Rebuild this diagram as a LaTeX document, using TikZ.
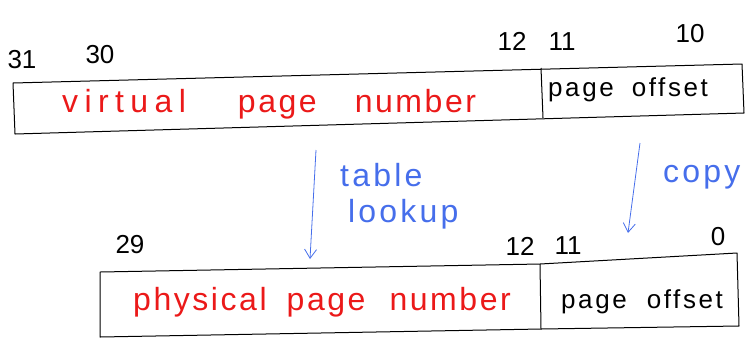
\documentclass[tikz,border=0pt]{standalone}
\usepackage{fontspec}
\setmainfont{Liberation Sans}
\usetikzlibrary{arrows.meta, positioning}
\usepackage{xcolor}
\definecolor{inkred}{RGB}{235,25,25}
\definecolor{inkblue}{RGB}{70,110,235}
\tikzset{fieldline/.style={draw=black, line width=1pt, line join=round},
bitnum/.style={font=\fontsize{26}{28}\selectfont, inner sep=0pt},
pagetext/.style={font=\fontsize{32}{36}\selectfont\addfontfeature{LetterSpace=8}, text=inkred, inner sep=0pt, anchor=base west},
offtext/.style={font=\fontsize{26}{30}\selectfont\addfontfeature{LetterSpace=10}, inner sep=0pt, anchor=base west},
lookarrow/.style={draw=inkblue, line width=0.8pt, -{Straight Barb[length=9pt, width=12pt]}},
notetext/.style={font=\fontsize{32}{36}\selectfont\addfontfeature{LetterSpace=10}, text=inkblue, inner sep=0pt, anchor=base west}}

\begin{document}
\begin{tikzpicture}[x=1pt, y=-1pt]
        \useasboundingbox (0,0) rectangle (751,360);
        % Virtual address box
        \coordinate (vtl) at (13,83);
        \coordinate (vtr) at (742,64);
        \coordinate (vbr) at (744,113);
        \coordinate (vbl) at (15,134);
        \coordinate (vdt) at (541,68);
        \coordinate (vdb) at (543,118);
        \draw[fieldline] (vtl) -- (vtr) -- (vbr) -- (vbl) -- cycle;
        \draw[fieldline] (vdt) -- (vdb);
        % Physical address box
        \coordinate (ptl) at (100,272);
        \coordinate (pdt) at (540,264);
        \coordinate (ptr) at (737,253);
        \coordinate (pbr) at (739,326);
        \coordinate (pdb) at (541,329);
        \coordinate (pbl) at (100,337);
        \draw[fieldline] (ptl) -- (pdt) -- (ptr) -- (pbr) -- (pdb) -- (pbl) -- cycle;
        \draw[fieldline] (pdt) -- (pdb);
        % Bit numbers
        \node[bitnum] (v31) at (22,60) {31};
        \node[bitnum] (v30) at (100,55) {30};
        \node[bitnum] (v12) at (512,41) {12};
        \node[bitnum] (v11) at (562,42) {11};
        \node[bitnum] (v0) at (690,34) {10};
        \node[bitnum] (p29) at (130,245) {29};
        \node[bitnum] (p12) at (520,246) {12};
        \node[bitnum] (p11) at (568,246) {11};
        \node[bitnum] (p0) at (718,237) {0};
        % Field names
        \node[pagetext] (vpn) at (62,112) {{\addfontfeature{LetterSpace=20}virtual}\hspace{52pt}page\hspace{38pt}number};
        \node[offtext] (voff) at (548,96) {page\hspace{18pt}offset};
        \node[pagetext] (ppn) at (133,310) {physical\hspace{20pt}page\hspace{24pt}number};
        \node[offtext] (poff) at (561,308) {page\hspace{20pt}offset};
        % Translation
        \coordinate (lookfrom) at (316,150);
        \coordinate (lookto) at (310,259);
        \coordinate (copyfrom) at (640,143);
        \coordinate (copyto) at (628,233);
        \draw[lookarrow] (lookfrom) -- (lookto);
        \draw[lookarrow] (copyfrom) -- (copyto);
        \node[notetext] (tbl) at (340,186) {table};
        \node[notetext] (lkp) at (348,222) {lookup};
        \node[notetext] (cpy) at (663,182) {copy};
\end{tikzpicture}
\end{document}
